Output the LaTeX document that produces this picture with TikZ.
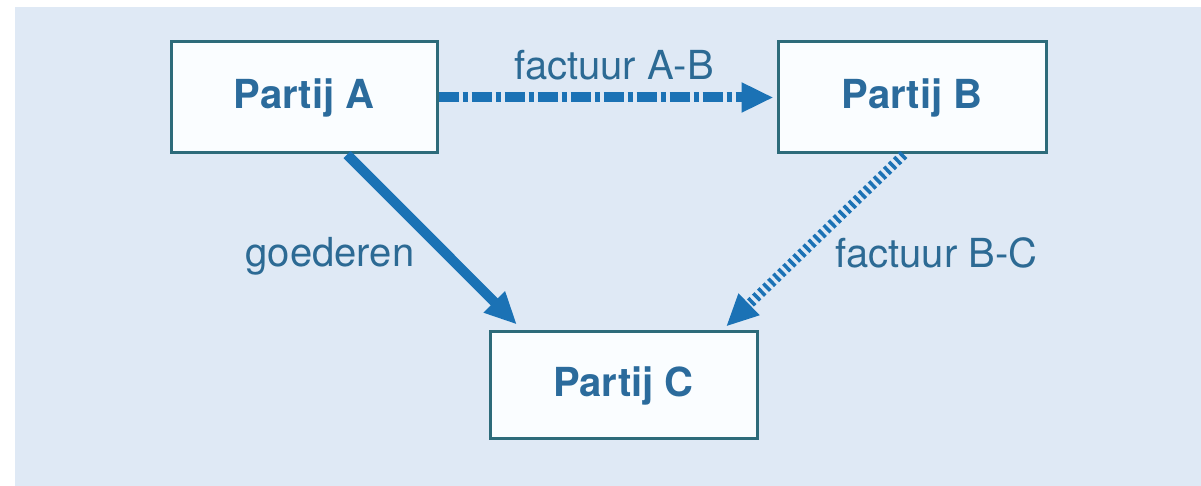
\documentclass[tikz,border=0pt]{standalone}
\usepackage{fontspec}
\setmainfont{TeX Gyre Heros}
\usetikzlibrary{arrows.meta,calc}
\definecolor{panel}{HTML}{DFE9F5}
\definecolor{boxline}{HTML}{2D6B7A}
\definecolor{boxfill}{HTML}{FAFDFF}
\definecolor{flow}{HTML}{1B72B5}
\definecolor{labeltext}{HTML}{2C6A94}
\definecolor{partytext}{HTML}{2B6B9C}
\begin{document}
\begin{tikzpicture}[x=0.5pt,y=-0.5pt,
  party/.style={draw=boxline,line width=1.5pt,fill=boxfill,inner sep=0pt,
    text=partytext,font=\fontsize{20}{24}\selectfont\bfseries},
  flowlabel/.style={anchor=base,inner sep=0pt,text=labeltext,
    font=\fontsize{20}{24}\selectfont},
  flowline/.style={draw=flow,line width=5pt,
    -{Triangle[length=16pt,width=14pt]}},
  invoiceab/.style={flowline,dash pattern=on 10pt off 2pt on 2.5pt off 2pt},
  invoicebc/.style={flowline,dash pattern=on 1.75pt off 1.75pt},
  goods/.style={flowline}]
  \useasboundingbox (0,0) rectangle (1201,486);
  % light panel behind the scheme
  \fill[panel] (15,7) rectangle (1201,486);

  % the three parties
  \node[party,minimum width=133pt,minimum height=55.5pt] (A) at (304,97.5) {Partij A};
  \node[party,minimum width=134pt,minimum height=55.5pt] (B) at (912,97.5) {Partij B};
  \node[party,minimum width=133.5pt,minimum height=53.5pt] (C) at (623.5,385.5) {Partij C};

  % start and end points of the diagonal flows
  \coordinate (goodsfrom) at ($(A.south west)!0.66!(A.south east)$);
  \coordinate (goodsto) at ($(C.north west)!0.105!(C.north east)+(0,-6)$);
  \coordinate (invfrom) at ($(B.south west)!0.47!(B.south east)$);
  \coordinate (invto) at ($(C.north west)!0.88!(C.north east)+(0,-4)$);

  % flows between the parties
  \draw[invoiceab,shorten >=1.5pt] (A.east) -- (B.west);
  \draw[goods] (goodsfrom) -- (goodsto);
  \draw[invoicebc] (invfrom) -- (invto);

  % flow labels
  \node[flowlabel] (labAB) at (614,80) {factuur A-B};
  \node[flowlabel] (labAC) at (330,267) {goederen};
  \node[flowlabel] (labBC) at (936.5,268) {factuur B-C};
\end{tikzpicture}
\end{document}
